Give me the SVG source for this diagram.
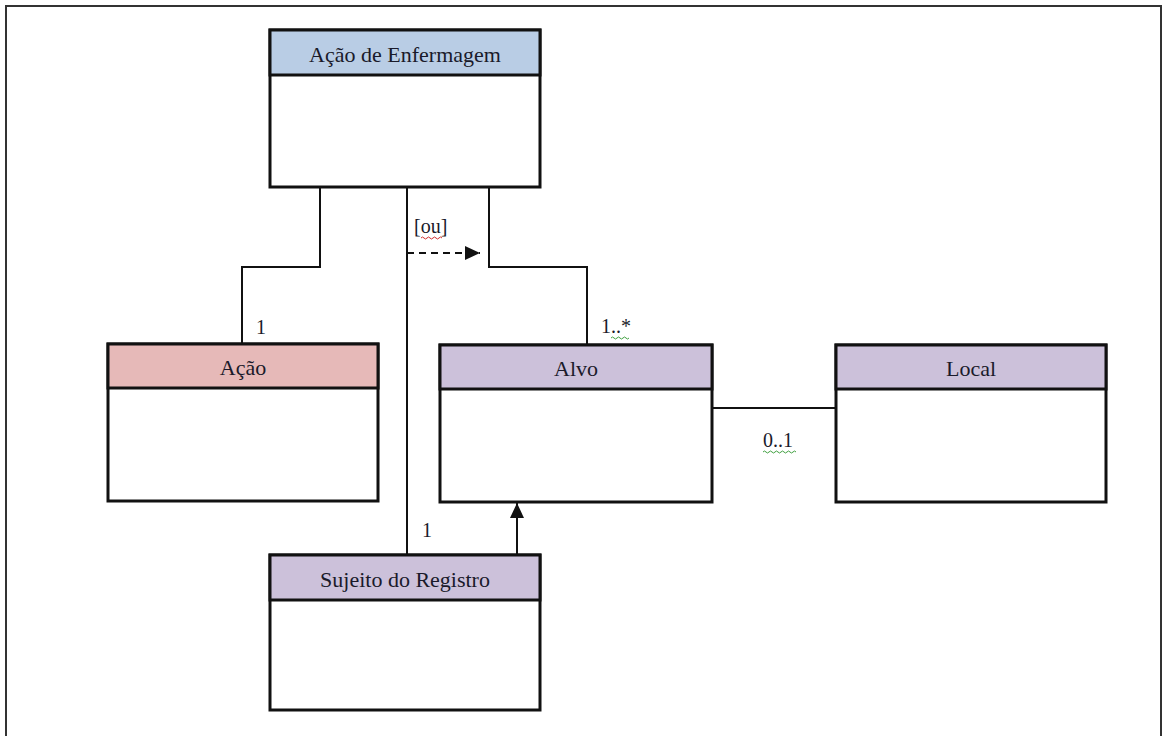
<svg xmlns="http://www.w3.org/2000/svg" width="1163" height="736" viewBox="0 0 1163 736">
<style>
.box{fill:#fff;stroke:#111;stroke-width:3}
.hdr{stroke:#111;stroke-width:3}
.t{font-family:"Liberation Serif","Times New Roman",serif;font-size:22px;fill:#1a1a2a;text-anchor:middle}
.lbl{font-family:"Liberation Serif","Times New Roman",serif;font-size:20px;fill:#1a1a2a}
.c{fill:none;stroke:#111;stroke-width:2}
.wr{fill:none;stroke:#d03030;stroke-width:1}
.wg{fill:none;stroke:#40a040;stroke-width:1}
</style>
<defs>
<marker id="ah2" markerWidth="16" markerHeight="16" refX="15" refY="8" orient="auto" markerUnits="userSpaceOnUse">
<path d="M0,1 L15,8 L0,15 Z" fill="#111"/>
</marker>
</defs>
<rect x="0" y="0" width="1163" height="736" fill="#fff"/>
<rect x="6" y="6" width="1155" height="740" fill="none" stroke="#333" stroke-width="2"/>

<g id="connectors">
<path class="c" d="M320,187 V267 H242 V344"/>
<path class="c" d="M489,187 V267 H587 V345"/>
<path class="c" d="M407,187 V555"/>
<path class="c" d="M407,253 H480" stroke-dasharray="7,5" marker-end="url(#ah2)"/>
<path class="c" d="M517,555 V503" marker-end="url(#ah2)"/>
<path class="c" d="M712,408 H836"/>
<text class="lbl" x="256" y="334">1</text>
<text class="lbl" x="414" y="233">[ou]</text>
<path class="wr" d="M421,238 q1.5,-2 3,0 t3,0 t3,0 t3,0 t3,0 t3,0 t3,0"/>
<text class="lbl" x="601" y="333">1..*</text>
<path class="wg" d="M611,338 q1.5,-2 3,0 t3,0 t3,0 t3,0 t3,0 t3,0"/>
<text class="lbl" x="763" y="447">0..1</text>
<path class="wg" d="M763,452 q1.5,-2 3,0 t3,0 t3,0 t3,0 t3,0 t3,0 t3,0 t3,0 t3,0 t3,0 t3,0"/>
<text class="lbl" x="422" y="537">1</text>
</g>

<g id="node-acao-enfermagem">
<rect class="box" x="270" y="30" width="270" height="157"/>
<rect class="hdr" x="270" y="30" width="270" height="45" fill="#b9cde5"/>
<text class="t" x="405" y="62">Ação de Enfermagem</text>
</g>

<g id="node-acao">
<rect class="box" x="108" y="344" width="270" height="157"/>
<rect class="hdr" x="108" y="344" width="270" height="44" fill="#e6b9b8"/>
<text class="t" x="243" y="375">Ação</text>
</g>

<g id="node-alvo">
<rect class="box" x="440" y="345" width="272" height="157"/>
<rect class="hdr" x="440" y="345" width="272" height="44" fill="#ccc1da"/>
<text class="t" x="576" y="376">Alvo</text>
</g>

<g id="node-local">
<rect class="box" x="836" y="345" width="270" height="157"/>
<rect class="hdr" x="836" y="345" width="270" height="44" fill="#ccc1da"/>
<text class="t" x="971" y="376">Local</text>
</g>

<g id="node-sujeito">
<rect class="box" x="270" y="555" width="270" height="155"/>
<rect class="hdr" x="270" y="555" width="270" height="45" fill="#ccc1da"/>
<text class="t" x="405" y="587">Sujeito do Registro</text>
</g>
</svg>
